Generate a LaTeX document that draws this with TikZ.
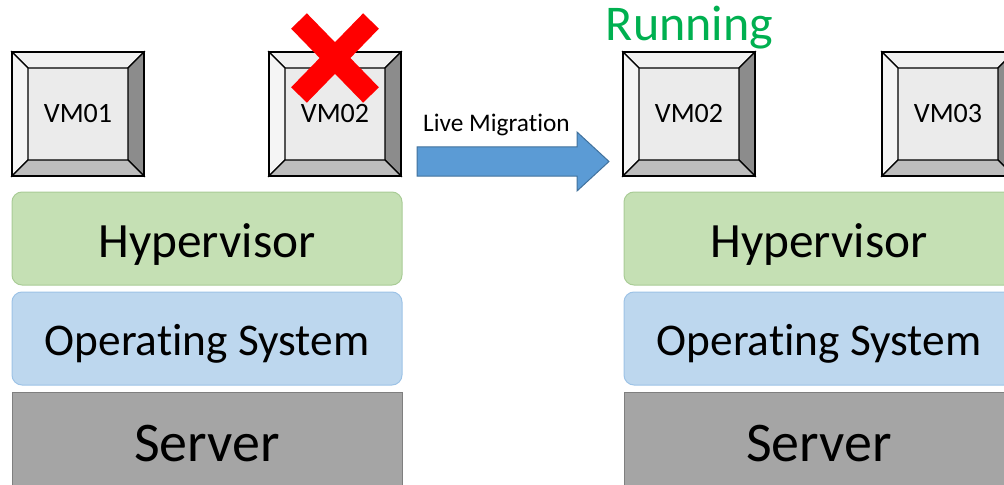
\documentclass[tikz,border=0pt]{standalone}
\usepackage{fontspec}
\setmainfont[Ligatures={NoCommon}]{Carlito}
\usetikzlibrary{positioning}

\definecolor{hypfill}{HTML}{C5E0B4}
\definecolor{hypline}{HTML}{A9CC96}
\definecolor{osfill}{HTML}{BDD7EE}
\definecolor{osline}{HTML}{9DC3E6}
\definecolor{srvfill}{HTML}{A5A5A5}
\definecolor{srvline}{HTML}{7F7F7F}
\definecolor{migfill}{HTML}{5B9BD5}
\definecolor{migline}{HTML}{41719C}
\definecolor{rungreen}{HTML}{00B050}

\tikzset{
  layer/.style={draw=#1line,fill=#1fill,line width=0.75pt,minimum width=292.5pt,
    minimum height=69.75pt,text depth=0pt,inner sep=0pt},
  hyplayer/.style={layer=hyp,rounded corners=7.5pt,text height=27.75pt,font=\fontsize{37}{40}\selectfont},
  oslayer/.style={layer=os,rounded corners=7.5pt,text height=25.5pt,font=\fontsize{34}{38}\selectfont},
  srvlayer/.style={layer=srv,minimum height=81pt,text height=22.5pt,font=\fontsize{42}{46}\selectfont},
  vmline/.style={draw=black,line width=0.9pt},
  vmtext/.style={font=\fontsize{21}{24}\selectfont},
}

\newcommand\vmbox[3]{% name, centre, label
  \begin{scope}[shift={(#2)}]
    \fill[black!8] (-50,-46) rectangle (50,46);
    \filldraw[fill=black!6,vmline] (-66,-62) -- (66,-62) -- (50,-46) -- (-50,-46) -- cycle;
    \filldraw[fill=black!4,vmline] (-66,-62) -- (-50,-46) -- (-50,46) -- (-66,62) -- cycle;
    \filldraw[fill=black!45,vmline] (66,-62) -- (50,-46) -- (50,46) -- (66,62) -- cycle;
    \filldraw[fill=black!26,vmline] (-66,62) -- (-50,46) -- (50,46) -- (66,62) -- cycle;
    \draw[vmline] (-66,-62) rectangle (66,62);
  \end{scope}
  \node[vmtext] (#1) at (#2) {#3};
}

\begin{document}
\begin{tikzpicture}[x=0.75pt,y=-0.75pt]
  \useasboundingbox (0,0) rectangle (1004,485);
  \clip (0,0) rectangle (1004,485);

  % source host
  \vmbox{vma}{78,114}{VM01}
  \vmbox{vmb}{335,114}{VM02}
  \node[hyplayer] (hypa) at (207,238.5) {Hypervisor};
  \node[oslayer] (osa) at (207,338.5) {Operating System};
  \node[srvlayer] (srva) at (207,446) {Server};
  \draw[red,line width=16.5pt] (299,21) -- (371,95) (371,21) -- (299,95);

  % target host
  \vmbox{vmc}{689,114}{VM02}
  \vmbox{vmd}{948,114}{VM03}
  \node[hyplayer] (hypb) at (819,238.5) {Hypervisor};
  \node[oslayer] (osb) at (819,338.5) {Operating System};
  \node[srvlayer] (srvb) at (819,446) {Server};
  \node[anchor=base,text=rungreen,font=\fontsize{37.5}{42}\selectfont] (run) at (689.5,41) {Running};

  % migration arrow
  \filldraw[fill=migfill,draw=migline,line width=0.75pt]
    (417,147) -- (577,147) -- (577,132) -- (609,161.5) -- (577,191) -- (577,176) -- (417,176) -- cycle;
  \node[anchor=base,font=\fontsize{19}{22}\selectfont] (mig) at (496.5,132) {Live Migration};
\end{tikzpicture}
\end{document}
